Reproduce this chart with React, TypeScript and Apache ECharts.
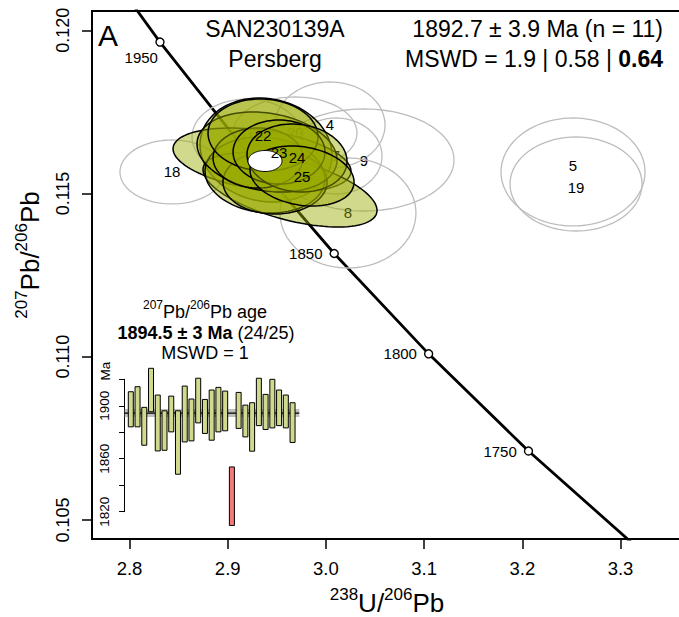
import React, { useEffect, useRef } from 'react';
import * as echarts from 'echarts';

const FONT = '"Liberation Sans", Arial, Helvetica, sans-serif';

// ---- main axes ----
const xTicks = [2.8, 2.9, 3.0, 3.1, 3.2, 3.3];
const yTicks = [0.105, 0.11, 0.115, 0.12];
const xMin = 2.7618;
const xMax = 3.3626;
const yMin = 0.104415;
const yMax = 0.120591;

// ---- concordia (Tera-Wasserburg) ----
const concordiaAges = [1700, 1750, 1800, 1850, 1900, 1950, 2000];
const concordiaX = [3.31395, 3.20626, 3.10459, 3.00843, 2.91738, 2.83103, 2.74902];
const concordiaY = [0.104233, 0.10711, 0.110087, 0.113162, 0.116345, 0.119638, 0.123045];
const labelledAges = [1750, 1800, 1850, 1950];

// ---- rejected analyses (grey ellipses) ----
const greyLabels = ['11', '20', '7', '4', '9', '8', '18', '5', '19'];
const greyX = [2.91965, 2.96853, 3.01029, 3.00418, 3.0388, 3.02245, 2.84328, 3.25163, 3.25468];
const greySX = [0.056, 0.0631, 0.0468, 0.056, 0.0916, 0.0692, 0.053, 0.0733, 0.0672];
const greyY = [0.116731, 0.116854, 0.116149, 0.117099, 0.116026, 0.114403, 0.115659, 0.115659, 0.115291];
const greySY = [0.001164, 0.001103, 0.001164, 0.001317, 0.001562, 0.001685, 0.00098, 0.001654, 0.00144];
const greyRho = [0, 0, 0, 0, 0, 0, 0, 0, 0];

// ---- accepted analyses (green ellipses) ----
const greenLabels = ['', '', '', '', '', '', '', '22', '23', '24', '25'];
const greenX = [2.939, 2.93493, 2.96344, 2.93798, 2.94817, 2.94002, 2.93086, 2.93595, 2.95224, 2.97057, 2.97566];
const greenSX = [0.0672, 0.0906, 0.0886, 0.0611, 0.053, 0.0713, 0.0458, 0.056, 0.0468, 0.0509, 0.053];
const greenY = [0.116333, 0.116026, 0.115107, 0.115567, 0.115352, 0.116271, 0.116088, 0.116792, 0.116271, 0.116088, 0.115536];
const greenSY = [0.001593, 0.00098, 0.001134, 0.001164, 0.00098, 0.001225, 0.000919, 0.001103, 0.00098, 0.001042, 0.000919];
const greenRho = [-0.1, -0.35, -0.55, -0.1, 0, -0.2, 0, -0.05, 0, -0.1, -0.2];

// ---- concordia age ellipse ----
const meanX = [2.93798];
const meanSX = [0.0173];
const meanY = [0.115996];
const meanSY = [0.000322];

// ---- annotation texts ----
const panelLetter = 'A';
const sampleName = 'SAN230139A';
const locality = 'Persberg';
const concordiaAgeText = '1892.7 ± 3.9 Ma (n = 11)';
const mswdValues = ['1.9', '0.58', '0.64'];

// ---- inset: 207Pb/206Pb ages ----
const insetLow = [1884.1, 1884.1, 1870.2, 1895.5, 1865.9, 1866.4, 1880.3, 1848.3, 1872.7, 1873.5, 1887.1, 1879.1, 1874.0, 1880.3, 1881.1, 1809.6, 1882.9, 1876.5, 1865.7, 1885.0, 1882.1, 1883.3, 1885.0, 1883.3, 1872.3];
const insetHigh = [1910.6, 1914.4, 1898.8, 1928.3, 1908.1, 1896.2, 1907.3, 1896.2, 1914.9, 1905.1, 1920.8, 1904.8, 1911.9, 1913.9, 1911.1, 1853.8, 1910.1, 1900.5, 1902.3, 1920.8, 1908.6, 1920.0, 1911.9, 1908.1, 1902.3];
const insetRejected = [0, 0, 0, 0, 0, 0, 0, 0, 0, 0, 0, 0, 0, 0, 0, 1, 0, 0, 0, 0, 0, 0, 0, 0, 0];
const insetMean = 1894.5;
const insetErr = 3;
const insetTicks = [1820, 1840, 1860, 1880, 1900, 1920];
const insetTickLabels = [1820, 1860, 1900];
const insetAgeText = '1894.5 ± 3 Ma';
const insetCountText = '(24/25)';
const insetMswdText = 'MSWD = 1';

// ---- styles ----
const GREEN_FILL = 'rgba(154,171,0,0.45)';
const GREY_STROKE = '#bdbdbd';
const BAR_FILL = '#d1d98d';
const BAR_RED = '#f47a7a';
const LABEL_FONT = '15px "Liberation Sans", Arial, Helvetica, sans-serif';
// pixel nudges for a few ellipse labels so that they do not collide
const labelNudge: Record<string, number[]> = { '5': [0, -6], '19': [0, 4] };

function ellipse(api: any, x: number, sx: number, y: number, sy: number, rho: number) {
  const c = api.coord([x, y]);
  const s = api.size([sx, sy], [x, y]);
  const k = Math.sqrt(1 - rho * rho);
  const pts: number[][] = [];
  const n = 96;
  for (let i = 0; i < n; i++) {
    const t = (i / n) * 2 * Math.PI;
    pts.push([c[0] + s[0] * Math.cos(t), c[1] - s[1] * (rho * Math.cos(t) + k * Math.sin(t))]);
  }
  return { c, pts };
}

function labelEl(text: string, c: number[]) {
  const d = labelNudge[text] || [0, 0];
  return {
    type: 'text', x: c[0] + d[0], y: c[1] + d[1],
    style: { text, fill: '#000', font: LABEL_FONT, align: 'center', verticalAlign: 'middle' },
  };
}

function buildOption(): any {
  const supRich = (main: number, sup: number) => ({
    s: { fontSize: sup, fontFamily: FONT, fill: '#000', verticalAlign: 'top', lineHeight: sup },
    m: { fontSize: main, fontFamily: FONT, fill: '#000', verticalAlign: 'bottom', lineHeight: main + 4 },
  });

  const markerData = labelledAges.map((age) => {
    const i = concordiaAges.indexOf(age);
    const label =
      age === 1950
        ? { position: [-14, 20], align: 'center', verticalAlign: 'middle' }
        : { position: 'left', distance: 7 };
    return { value: [concordiaX[i], concordiaY[i]], name: String(age), label };
  });

  return {
    animation: false,
    grid: [
      {
        left: 92, top: 11, width: 590, height: 528,
        show: true, borderColor: '#000', borderWidth: 2, backgroundColor: 'transparent',
        outerBoundsMode: 'none', containLabel: false,
      },
      {
        left: 124.06, top: 379.3, width: 175.24, height: 132.4,
        show: false, outerBoundsMode: 'none', containLabel: false,
      },
    ],
    xAxis: [
      {
        type: 'value', gridIndex: 0, min: xMin, max: xMax,
        axisLine: { show: false },
        splitLine: { show: false },
        axisTick: { show: true, inside: false, length: 10, lineStyle: { color: '#000', width: 1.5 }, customValues: xTicks },
        axisLabel: {
          customValues: xTicks, formatter: (v: number) => v.toFixed(1),
          fontSize: 18.5, fontFamily: FONT, color: '#000', margin: 20,
        },
      },
      { type: 'value', gridIndex: 1, min: 0, max: 26, show: false },
    ],
    yAxis: [
      {
        type: 'value', gridIndex: 0, min: yMin, max: yMax,
        axisLine: { show: false },
        splitLine: { show: false },
        axisTick: { show: true, inside: false, length: 10, lineStyle: { color: '#000', width: 1.5 }, customValues: yTicks },
        axisLabel: {
          customValues: yTicks, formatter: (v: number) => v.toFixed(3), rotate: 90,
          fontSize: 18, fontFamily: FONT, color: '#000', margin: 20,
        },
      },
      {
        type: 'value', gridIndex: 1, min: 1820, max: 1920, offset: 7,
        axisLine: { show: true, lineStyle: { color: '#000', width: 1 } },
        splitLine: { show: false },
        axisTick: { show: true, inside: false, length: 5, lineStyle: { color: '#000', width: 1 }, customValues: insetTicks },
        axisLabel: {
          customValues: insetTickLabels, formatter: (v: number) => String(Math.round(v)), rotate: 90,
          fontSize: 13.5, fontFamily: FONT, color: '#000', margin: 6,
        },
      },
    ],
    graphic: [
      { type: 'text', x: 98, y: 35, style: { text: panelLetter, fontSize: 30, fontFamily: FONT, fill: '#000', align: 'left', verticalAlign: 'middle' } },
      { type: 'text', x: 275, y: 29, style: { text: sampleName, fontSize: 23, fontFamily: FONT, fill: '#000', align: 'center', verticalAlign: 'middle' } },
      { type: 'text', x: 275, y: 59, style: { text: locality, fontSize: 23, fontFamily: FONT, fill: '#000', align: 'center', verticalAlign: 'middle' } },
      { type: 'text', x: 663, y: 29, style: { text: concordiaAgeText, fontSize: 23, fontFamily: FONT, fill: '#000', align: 'right', verticalAlign: 'middle' } },
      {
        type: 'text', x: 663, y: 59,
        style: {
          text: `MSWD = ${mswdValues[0]} | ${mswdValues[1]} | {b|${mswdValues[2]}}`,
          rich: { b: { fontSize: 23, fontFamily: FONT, fontWeight: 'bold', fill: '#000' } },
          fontSize: 23, fontFamily: FONT, fill: '#000', align: 'right', verticalAlign: 'middle',
        },
      },
      {
        type: 'text', x: 387, y: 601,
        style: { text: '{s|238}{m|U/}{s|206}{m|Pb}', rich: supRich(26, 17), align: 'center', verticalAlign: 'middle' },
      },
      {
        type: 'text', x: 28, y: 255, rotation: Math.PI / 2,
        style: { text: '{s|207}{m|Pb/}{s|206}{m|Pb}', rich: supRich(26, 17), align: 'center', verticalAlign: 'middle' },
      },
      {
        type: 'text', x: 205, y: 310,
        style: { text: '{s|207}{m|Pb/}{s|206}{m|Pb age}', rich: supRich(18, 12), align: 'center', verticalAlign: 'middle' },
      },
      {
        type: 'text', x: 206, y: 333,
        style: {
          text: `{b|${insetAgeText}} ${insetCountText}`,
          rich: { b: { fontSize: 18, fontFamily: FONT, fontWeight: 'bold', fill: '#000' } },
          fontSize: 18, fontFamily: FONT, fill: '#000', align: 'center', verticalAlign: 'middle',
        },
      },
      { type: 'text', x: 205, y: 353, style: { text: insetMswdText, fontSize: 18, fontFamily: FONT, fill: '#000', align: 'center', verticalAlign: 'middle' } },
      { type: 'text', x: 105, y: 371, rotation: Math.PI / 2, style: { text: 'Ma', fontSize: 13.5, fontFamily: FONT, fill: '#000', align: 'center', verticalAlign: 'middle' } },
    ],
    series: [
      {
        type: 'line', xAxisIndex: 0, yAxisIndex: 0, z: 2,
        data: concordiaX.map((x, i) => [x, concordiaY[i]]),
        showSymbol: false, symbol: 'none', clip: true, silent: true,
        lineStyle: { color: '#000', width: 2.8 },
      },
      {
        type: 'custom', xAxisIndex: 0, yAxisIndex: 0, z: 3, silent: true,
        data: greyX.map((x, i) => [x, greyY[i]]),
        encode: { x: 0, y: 1 },
        renderItem: (params: any, api: any) => {
          const i = params.dataIndex;
          const { c, pts } = ellipse(api, greyX[i], greySX[i], greyY[i], greySY[i], greyRho[i]);
          return {
            type: 'group',
            children: [
              { type: 'polygon', shape: { points: pts }, style: { fill: 'none', stroke: GREY_STROKE, lineWidth: 1.3 } },
              labelEl(greyLabels[i], c),
            ],
          };
        },
      },
      {
        type: 'custom', xAxisIndex: 0, yAxisIndex: 0, z: 4, silent: true,
        data: greenX.map((x, i) => [x, greenY[i]]),
        encode: { x: 0, y: 1 },
        renderItem: (params: any, api: any) => {
          const i = params.dataIndex;
          const { pts } = ellipse(api, greenX[i], greenSX[i], greenY[i], greenSY[i], greenRho[i]);
          return { type: 'polygon', shape: { points: pts }, style: { fill: GREEN_FILL, stroke: '#000', lineWidth: 1.5 } };
        },
      },
      {
        type: 'custom', xAxisIndex: 0, yAxisIndex: 0, z: 5, silent: true,
        data: meanX.map((x, i) => [x, meanY[i]]),
        encode: { x: 0, y: 1 },
        renderItem: (params: any, api: any) => {
          const i = params.dataIndex;
          const { pts } = ellipse(api, meanX[i], meanSX[i], meanY[i], meanSY[i], 0);
          return { type: 'polygon', shape: { points: pts }, style: { fill: '#fff', stroke: '#000', lineWidth: 1 } };
        },
      },
      {
        type: 'custom', xAxisIndex: 0, yAxisIndex: 0, z: 6, silent: true,
        data: greenX.map((x, i) => [x, greenY[i]]),
        encode: { x: 0, y: 1 },
        renderItem: (params: any, api: any) => {
          const i = params.dataIndex;
          const c = api.coord([greenX[i], greenY[i]]);
          return labelEl(greenLabels[i], c);
        },
      },
      {
        type: 'scatter', xAxisIndex: 0, yAxisIndex: 0, z: 7, silent: true,
        data: markerData,
        symbol: 'circle', symbolSize: 8,
        itemStyle: { color: '#fff', borderColor: '#000', borderWidth: 1.4, opacity: 1 },
        label: { show: true, formatter: (p: any) => p.name, fontSize: 15, fontFamily: FONT, color: '#000' },
      },
      {
        type: 'custom', xAxisIndex: 1, yAxisIndex: 1, z: 3, silent: true, clip: false,
        data: [[0, insetMean]],
        encode: { x: 0, y: 1 },
        renderItem: (params: any, api: any) => {
          const a = api.coord([0, insetMean + insetErr]);
          const b = api.coord([26, insetMean - insetErr]);
          const m0 = api.coord([0, insetMean]);
          const m1 = api.coord([26, insetMean]);
          return {
            type: 'group',
            children: [
              { type: 'rect', shape: { x: a[0], y: a[1], width: b[0] - a[0], height: b[1] - a[1] }, style: { fill: 'rgba(110,110,110,0.45)' } },
              { type: 'line', shape: { x1: m0[0], y1: m0[1], x2: m1[0], y2: m1[1] }, style: { stroke: '#000', lineWidth: 1.3 } },
            ],
          };
        },
      },
      {
        type: 'custom', xAxisIndex: 1, yAxisIndex: 1, z: 4, silent: true, clip: false,
        data: insetLow.map((lo, i) => [i + 1, lo, insetHigh[i]]),
        encode: { x: 0, y: [1, 2] },
        renderItem: (params: any, api: any) => {
          const i = params.dataIndex;
          const top = api.coord([i + 1, insetHigh[i]]);
          const bot = api.coord([i + 1, insetLow[i]]);
          const w = 5;
          return {
            type: 'rect',
            shape: { x: top[0] - w / 2, y: top[1], width: w, height: bot[1] - top[1] },
            style: { fill: insetRejected[i] ? BAR_RED : BAR_FILL, stroke: '#000', lineWidth: 1 },
          };
        },
      },
    ],
  };
}

export default function App() {
  const ref = useRef<HTMLDivElement>(null);
  useEffect(() => {
    if (!ref.current) return;
    const chart = echarts.init(ref.current, null, { renderer: 'svg' });
    chart.setOption(buildOption());
    return () => chart.dispose();
  }, []);
  return (
    <div
      ref={ref}
      style={{ position: 'absolute', left: 0, top: 0, width: 679, height: 617, background: '#fff' }}
    />
  );
}
